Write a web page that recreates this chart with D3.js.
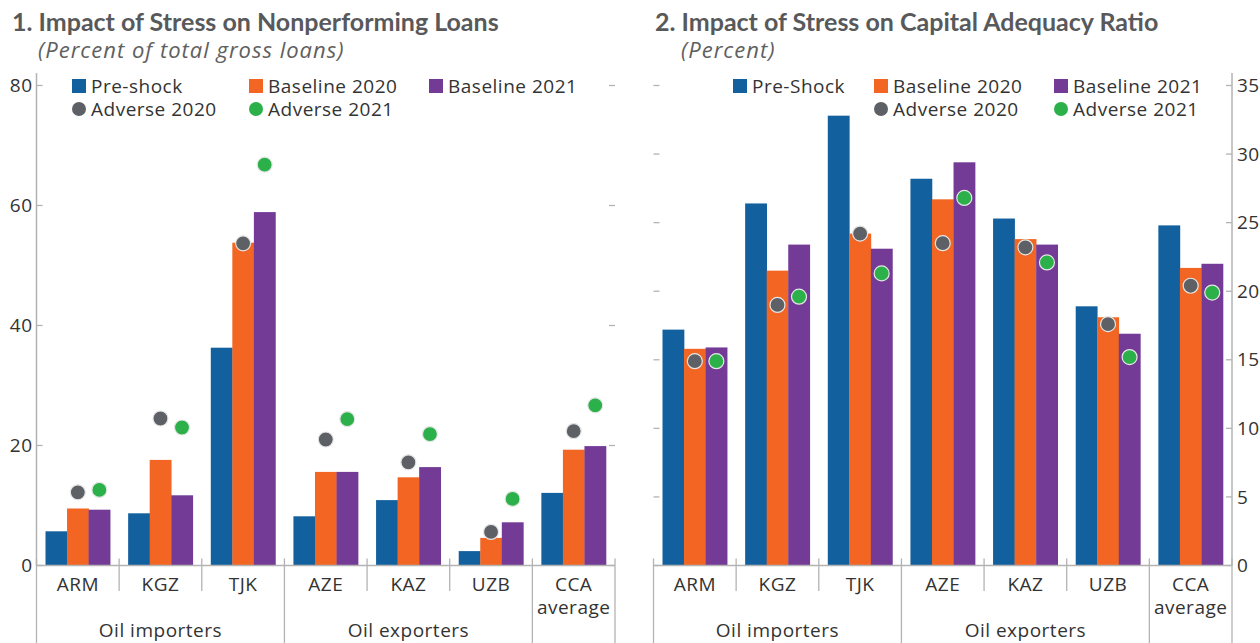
<!DOCTYPE html>
<html>
<head>
<meta charset="utf-8">
<script src="https://cdn.jsdelivr.net/npm/d3@7"></script>
<style>
  html, body { margin: 0; padding: 0; background: #fff; }
  svg { display: block; font-family: "Open Sans", Lato, sans-serif; }
</style>
</head>
<body>
<svg id="chart" width="1260" height="643"></svg>
<script>
// ---- data ----
const categories = ["ARM", "KGZ", "TJK", "AZE", "KAZ", "UZB", "CCA average"];
const groups = [
  { name: "Oil importers", from: 0, to: 3 },
  { name: "Oil exporters", from: 3, to: 6 },
  { name: "", from: 6, to: 7 }
];
const barKeys = ["preShock", "base2020", "base2021"];

// panel 1: NPL, percent of total gross loans
const nplPreShock = [5.7, 8.7, 36.3, 8.2, 10.9, 2.4, 12.1];
const nplBase2020 = [9.5, 17.6, 53.8, 15.6, 14.7, 4.6, 19.3];
const nplBase2021 = [9.3, 11.7, 58.9, 15.6, 16.4, 7.2, 19.9];
const nplAdv2020 = [12.2, 24.5, 53.7, 21.0, 17.2, 5.6, 22.4];
const nplAdv2021 = [12.6, 23.0, 66.8, 24.4, 21.9, 11.1, 26.7];
const nplTicks = [0, 20, 40, 60, 80];

// panel 2: capital adequacy ratio, percent
const carPreShock = [17.2, 26.4, 32.8, 28.2, 25.3, 18.9, 24.8];
const carBase2020 = [15.8, 21.5, 24.2, 26.7, 23.8, 18.1, 21.7];
const carBase2021 = [15.9, 23.4, 23.1, 29.4, 23.4, 16.9, 22.0];
const carAdv2020 = [14.9, 19.0, 24.2, 23.5, 23.2, 17.6, 20.4];
const carAdv2021 = [14.9, 19.6, 21.3, 26.8, 22.1, 15.2, 19.9];
const carTicks = [0, 5, 10, 15, 20, 25, 30, 35];

const colors = {
  preShock: "#13609e",
  base2020: "#f26522",
  base2021: "#733a96",
  adv2020: "#5d6166",
  adv2021: "#2bb04a"
};
const axisGray = "#b3b3b3";
const textColor = "#333333";
const titleColor = "#58595b";
const fs = 19;
const ls = "0.5px";

const svg = d3.select("#chart");

function drawPanel(p) {
  const g = svg.append("g").attr("letter-spacing", ls);
  const rows = categories.map((c, i) => ({
    cat: c,
    preShock: p.pre[i], base2020: p.b20[i], base2021: p.b21[i],
    adv2020: p.a20[i], adv2021: p.a21[i]
  }));

  const x = d3.scaleBand().domain(categories).range([p.x0, p.x1]).padding(0);
  const xs = d3.scaleBand().domain(barKeys).range([9, x.bandwidth() - 9]).padding(0);
  const y = d3.scaleLinear().domain([0, p.max]).range([565.5, 85.5]);

  // title
  g.append("text").attr("x", p.titleX).attr("y", 31)
    .attr("font-family", "Lato, sans-serif").attr("letter-spacing", "0px")
    .attr("font-size", 25).attr("font-weight", 700).attr("fill", titleColor)
    .text(p.title);
  g.append("text").attr("x", p.titleX + 26).attr("y", 58)
    .attr("font-size", 22).attr("font-style", "italic").attr("fill", "#606060")
    .attr("letter-spacing", "1px")
    .text(p.subtitle);

  // value axes
  const ticks = p.ticks;
  g.append("g").selectAll("line").data(ticks).join("line")
    .attr("x1", p.x0).attr("x2", p.x0 + 6)
    .attr("y1", d => y(d)).attr("y2", d => y(d))
    .attr("stroke", axisGray).attr("stroke-width", 1.3);
  g.append("g").selectAll("line").data(ticks).join("line")
    .attr("x1", p.x1 - 6).attr("x2", p.x1)
    .attr("y1", d => y(d)).attr("y2", d => y(d))
    .attr("stroke", axisGray).attr("stroke-width", 1.3);

  const axisX = p.labelSide === "left" ? p.x0 : p.x1;
  g.append("line").attr("x1", axisX).attr("x2", axisX)
    .attr("y1", 73).attr("y2", y(0))
    .attr("stroke", axisGray).attr("stroke-width", 1.5);
  g.append("g").selectAll("text").data(ticks).join("text")
    .attr("x", p.labelSide === "left" ? p.x0 - 4 : p.x1 + 5)
    .attr("y", d => y(d)).attr("dy", "0.35em")
    .attr("text-anchor", p.labelSide === "left" ? "end" : "start")
    .attr("font-size", fs).attr("fill", textColor)
    .text(d => d);

  // bars
  const cat = g.selectAll("g.cat").data(rows).join("g")
    .attr("class", "cat")
    .attr("transform", d => `translate(${x(d.cat)},0)`);
  cat.selectAll("rect").data(d => barKeys.map(k => ({ key: k, value: d[k] }))).join("rect")
    .attr("x", d => xs(d.key))
    .attr("width", xs.bandwidth() + 0.3)
    .attr("y", d => y(d.value))
    .attr("height", d => y(0) - y(d.value))
    .attr("fill", d => colors[d.key]);

  // adverse dots
  cat.append("circle")
    .attr("cx", xs("base2020") + xs.bandwidth() / 2)
    .attr("cy", d => y(d.adv2020))
    .attr("r", 7.5).attr("fill", colors.adv2020)
    .attr("stroke", "#e6e6e6").attr("stroke-width", 1.2);
  cat.append("circle")
    .attr("cx", xs("base2021") + xs.bandwidth() / 2)
    .attr("cy", d => y(d.adv2021))
    .attr("r", 7.5).attr("fill", colors.adv2021)
    .attr("stroke", "#e6e6e6").attr("stroke-width", 1.2);

  // category axis
  g.append("line").attr("x1", p.x0).attr("x2", p.x1)
    .attr("y1", y(0)).attr("y2", y(0))
    .attr("stroke", axisGray).attr("stroke-width", 1.5);
  const bounds = d3.range(categories.length + 1);
  const longBounds = new Set(groups.flatMap(gr => [gr.from, gr.to]));
  g.append("g").selectAll("line").data(bounds).join("line")
    .attr("x1", i => p.x0 + i * x.bandwidth()).attr("x2", i => p.x0 + i * x.bandwidth())
    .attr("y1", y(0) - 7)
    .attr("y2", i => longBounds.has(i) ? 643 : 591)
    .attr("stroke", axisGray).attr("stroke-width", 1.3);

  const lab = g.append("g").selectAll("text").data(categories).join("text")
    .attr("x", d => x(d) + x.bandwidth() / 2)
    .attr("y", 591)
    .attr("text-anchor", "middle")
    .attr("font-size", fs).attr("fill", textColor);
  lab.each(function (d) {
    const parts = d.split(" ");
    d3.select(this).selectAll("tspan").data(parts).join("tspan")
      .attr("x", x(d) + x.bandwidth() / 2)
      .attr("dy", (s, i) => i === 0 ? 0 : 23)
      .text(s => s);
  });

  g.append("g").selectAll("text").data(groups.filter(gr => gr.name)).join("text")
    .attr("x", gr => p.x0 + (gr.from + gr.to) / 2 * x.bandwidth())
    .attr("y", 637)
    .attr("text-anchor", "middle")
    .attr("font-size", fs).attr("fill", textColor)
    .text(gr => gr.name);

  // legend
  const leg = g.append("g").attr("font-size", fs).attr("fill", textColor);
  const items = [
    { label: p.preLabel, key: "preShock", shape: "rect", lx: p.legX[0], ly: 86 },
    { label: "Baseline 2020", key: "base2020", shape: "rect", lx: p.legX[1], ly: 86 },
    { label: "Baseline 2021", key: "base2021", shape: "rect", lx: p.legX[2], ly: 86 },
    { label: "Adverse 2020", key: "adv2020", shape: "circle", lx: p.legX[3], ly: 109 },
    { label: "Adverse 2021", key: "adv2021", shape: "circle", lx: p.legX[4], ly: 109 }
  ];
  items.forEach(it => {
    if (it.shape === "rect") {
      leg.append("rect").attr("x", it.lx - 19).attr("y", it.ly - 7)
        .attr("width", 14).attr("height", 14).attr("fill", colors[it.key]);
    } else {
      leg.append("circle").attr("cx", it.lx - 12).attr("cy", it.ly)
        .attr("r", 7).attr("fill", colors[it.key]);
    }
    leg.append("text").attr("x", it.lx).attr("y", it.ly).attr("dy", "0.35em")
      .attr("fill", textColor).text(it.label);
  });
}

drawPanel({
  title: "1. Impact of Stress on Nonperforming Loans",
  subtitle: "(Percent of total gross loans)",
  titleX: 12,
  x0: 36.5, x1: 615,
  max: 80, ticks: nplTicks, labelSide: "left",
  pre: nplPreShock, b20: nplBase2020, b21: nplBase2021, a20: nplAdv2020, a21: nplAdv2021,
  preLabel: "Pre-shock",
  legX: [91, 268, 448, 91, 268]
});

drawPanel({
  title: "2. Impact of Stress on Capital Adequacy Ratio",
  subtitle: "(Percent)",
  titleX: 655,
  x0: 653.5, x1: 1232,
  max: 35, ticks: carTicks, labelSide: "right",
  pre: carPreShock, b20: carBase2020, b21: carBase2021, a20: carAdv2020, a21: carAdv2021,
  preLabel: "Pre-Shock",
  legX: [752, 893, 1073, 893, 1073]
});
</script>
</body>
</html>
